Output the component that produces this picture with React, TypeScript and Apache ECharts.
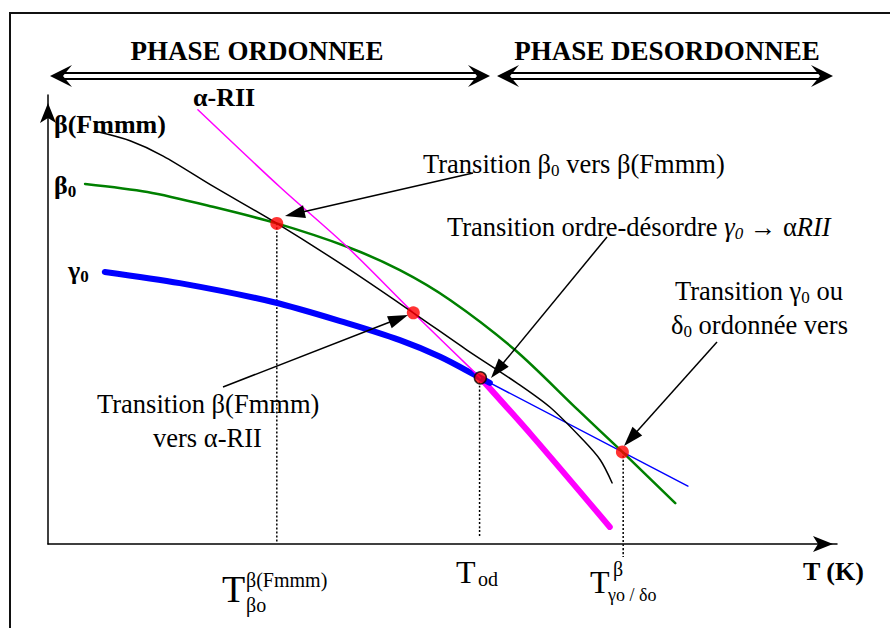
import React, { useEffect, useRef } from "react";
import * as echarts from "echarts";

// ---- data (schematic units: T on x 0..100, free energy on y 0..100) ----
const betaFmmmCurve = [[6.3, 91.8], [10.4, 89.8], [14.6, 86.4], [20.9, 79.7], [29.0, 71.4], [37.9, 61.5], [46.3, 51.5], [53.1, 43.2], [59.4, 35.9], [63.6, 30.5], [67.8, 23.2], [70.0, 18.7], [71.5, 13.6]];
const beta0Curve = [[4.7, 80.2], [12.6, 78.4], [20.9, 75.1], [29.0, 71.4], [37.9, 66.2], [44.6, 61.0], [51.0, 54.3], [59.2, 43.2], [67.2, 29.8], [72.8, 20.5], [79.5, 9.1]];
const alphaRIIThin = [[19.0, 96.7], [29.4, 79.5], [37.9, 66.2], [46.3, 51.5], [54.8, 37.0]];
const alphaRIIThick = [[54.8, 37.0], [61.5, 23.8], [71.2, 3.8]];
const gamma0Thick = [[7.2, 60.6], [16.7, 58.1], [28.5, 53.9], [37.9, 49.2], [44.6, 45.4], [49.7, 41.7], [54.8, 37.0], [56.0, 35.9]];
const gamma0Thin = [[54.8, 37.0], [81.1, 12.9]];
const transitionPoints = [[29.0, 71.4], [46.3, 51.5], [72.8, 20.5]];
const orderDisorderPoint = [[54.8, 37.0]];
const dropTbeta = [[29.0, 71.4], [29.0, 0.4]];
const dropTod = [[54.7, 37.0], [54.7, 1.6]];
const dropTgamma = [[72.9, 20.5], [72.9, -2.9]];

const SERIF = "'Liberation Serif', 'Times New Roman', Times, serif";

function txt(x: number, y: number, text: string, size: number, opts: any = {}) {
  const font = `${opts.italic ? "italic " : ""}${opts.bold ? "bold " : ""}${size}px ${SERIF}`;
  return {
    type: "text",
    x,
    y,
    z: 100,
    style: {
      text,
      font,
      fill: "#000",
      align: opts.align || "left",
      verticalAlign: "middle",
      textAlign: opts.align || "left",
      textVerticalAlign: "middle",
      rich: opts.rich,
    },
  };
}

function richStyles(size: number, bold: boolean) {
  const fw = bold ? "bold" : "normal";
  const sub = Math.round(size * 0.66);
  return {
    n: { fontSize: size, fontFamily: SERIF, fontWeight: fw, color: "#000" },
    s: { fontSize: sub, fontFamily: SERIF, fontWeight: fw, color: "#000", padding: [12, 0, 0, 0] },
    i: { fontSize: size, fontFamily: SERIF, fontWeight: fw, fontStyle: "italic", color: "#000" },
    is: { fontSize: sub, fontFamily: SERIF, fontWeight: fw, fontStyle: "italic", color: "#000", padding: [12, 0, 0, 0] },
  };
}

function arrow(x1: number, y1: number, x2: number, y2: number, L = 20, W = 13) {
  const dx = x2 - x1;
  const dy = y2 - y1;
  const len = Math.sqrt(dx * dx + dy * dy);
  const ux = dx / len;
  const uy = dy / len;
  const bx = x2 - L * ux;
  const by = y2 - L * uy;
  const nx = -uy;
  const ny = ux;
  return [
    { type: "line", z: 90, shape: { x1, y1, x2: bx + 2 * ux, y2: by + 2 * uy }, style: { stroke: "#000", lineWidth: 1.5 } },
    {
      type: "polygon",
      z: 90,
      shape: { points: [[x2, y2], [bx + (nx * W) / 2, by + (ny * W) / 2], [bx - (nx * W) / 2, by - (ny * W) / 2]] },
      style: { fill: "#000" },
    },
  ];
}

function doubleArrow(xl: number, xr: number, y: number) {
  const L = 22;
  const H = 11;
  const N = 13;
  return [
    { type: "line", shape: { x1: xl + 14, y1: y - 3, x2: xr - 14, y2: y - 3 }, style: { stroke: "#000", lineWidth: 2 } },
    { type: "line", shape: { x1: xl + 14, y1: y + 3, x2: xr - 14, y2: y + 3 }, style: { stroke: "#000", lineWidth: 2 } },
    { type: "polygon", shape: { points: [[xl, y], [xl + L, y - H], [xl + N, y], [xl + L, y + H]] }, style: { fill: "#000" } },
    { type: "polygon", shape: { points: [[xr, y], [xr - L, y - H], [xr - N, y], [xr - L, y + H]] }, style: { fill: "#000" } },
  ];
}

function lineSeries(data: number[][], color: string, width: number, z: number, extra: any = {}) {
  return {
    type: "line",
    data,
    smooth: 0.3,
    symbol: "none",
    z,
    silent: true,
    lineStyle: { color, width, cap: "round", ...(extra.lineStyle || {}) },
    clip: extra.clip !== undefined ? extra.clip : true,
  };
}

export default function App() {
  const ref = useRef<HTMLDivElement>(null);
  useEffect(() => {
    if (!ref.current) return;
    const chart = echarts.init(ref.current, null, { renderer: "svg" });
    const axisCommon = {
      type: "value",
      min: 0,
      max: 100,
      axisTick: { show: false },
      axisLabel: { show: false },
      splitLine: { show: false },
    };
    const option: any = {
      animation: false,
      backgroundColor: "#fff",
      grid: { left: 48, right: 53, top: 95, bottom: 84 },
      xAxis: {
        ...axisCommon,
        axisLine: { show: true, onZero: false, symbol: ["none", "arrow"], symbolSize: [12, 20], symbolOffset: [0, -4], lineStyle: { color: "#000", width: 1.5 } },
      },
      yAxis: {
        ...axisCommon,
        axisLine: { show: true, onZero: false, symbol: ["none", "arrow"], symbolSize: [12, 20], symbolOffset: [0, -8], lineStyle: { color: "#000", width: 1.5 } },
      },
      series: [
        lineSeries(dropTbeta, "#000", 1.5, 1, { lineStyle: { type: [2, 2], cap: "butt" } }),
        lineSeries(dropTod, "#000", 1.5, 1, { lineStyle: { type: [2, 2], cap: "butt" } }),
        lineSeries(dropTgamma, "#000", 1.5, 1, { lineStyle: { type: [2, 2], cap: "butt" }, clip: false }),
        lineSeries(alphaRIIThick, "#ff00ff", 6, 2),
        lineSeries(gamma0Thick, "#0000ff", 6, 3),
        lineSeries(gamma0Thin, "#0000ff", 1.5, 3),
        lineSeries(beta0Curve, "#008000", 2.5, 4),
        lineSeries(alphaRIIThin, "#ff00ff", 1.5, 5),
        lineSeries(betaFmmmCurve, "#000", 1.5, 6),
        {
          type: "scatter",
          data: transitionPoints,
          symbolSize: 13,
          z: 10,
          silent: true,
          itemStyle: { color: "#ff0000" },
        },
        {
          type: "scatter",
          data: orderDisorderPoint,
          symbolSize: 12,
          z: 10,
          silent: true,
          itemStyle: { color: "#ff0000", borderColor: "#000", borderWidth: 1.5 },
        },
      ],
      graphic: [
        { type: "rect", shape: { x: 10, y: 13, width: 900, height: 700 }, style: { fill: "none", stroke: "#111", lineWidth: 2 } },
        txt(257, 51, "PHASE ORDONNEE", 27, { bold: true, align: "center" }),
        txt(667, 51, "PHASE DESORDONNEE", 27, { bold: true, align: "center" }),
        ...doubleArrow(50, 490, 76),
        ...doubleArrow(497, 833, 76),
        txt(193, 97, "α-RII", 26, { bold: true }),
        txt(54, 124, "β(Fmmm)", 26, { bold: true }),
        txt(54, 185, "{n|β}{s|0}", 26, { bold: true, rich: richStyles(26, true) }),
        txt(68, 270, "{n|γ}{s|0}", 26, { bold: true, rich: richStyles(26, true) }),
        txt(423, 164, "{n|Transition β}{s|0}{n| vers β(Fmmm)}", 26.5, { rich: richStyles(26.5, false) }),
        txt(447, 227, "{n|Transition ordre-désordre }{i|γ}{is|0}{n| → α}{i|RII}", 26.5, { rich: richStyles(26.5, false) }),
        txt(97, 404, "Transition β(Fmmm)", 26.5),
        txt(153, 438, "vers α-RII", 26.5),
        txt(675, 291, "{n|Transition γ}{s|0}{n| ou}", 26.5, { rich: richStyles(26.5, false) }),
        txt(671, 325, "{n|δ}{s|0}{n| ordonnée vers}", 26.5, { rich: richStyles(26.5, false) }),
        ...arrow(473, 173, 285, 216),
        ...arrow(607, 237, 491, 378),
        ...arrow(223, 387, 408, 315),
        ...arrow(717, 342, 624, 446),
        txt(222, 589, "T", 38),
        txt(246, 580, "β(Fmmm)", 20),
        txt(246, 605, "βo", 20),
        txt(456, 572, "T", 32),
        txt(478, 579, "od", 20),
        txt(590, 582, "T", 32),
        txt(613, 569, "β", 20),
        txt(608, 595, "γo / δo", 18),
        txt(803, 571, "T (K)", 26, { bold: true }),
      ],
    };
    chart.setOption(option);
    return () => chart.dispose();
  }, []);
  return <div ref={ref} style={{ position: "fixed", left: 0, top: 0, width: 890, height: 628, background: "#fff" }} />;
}
